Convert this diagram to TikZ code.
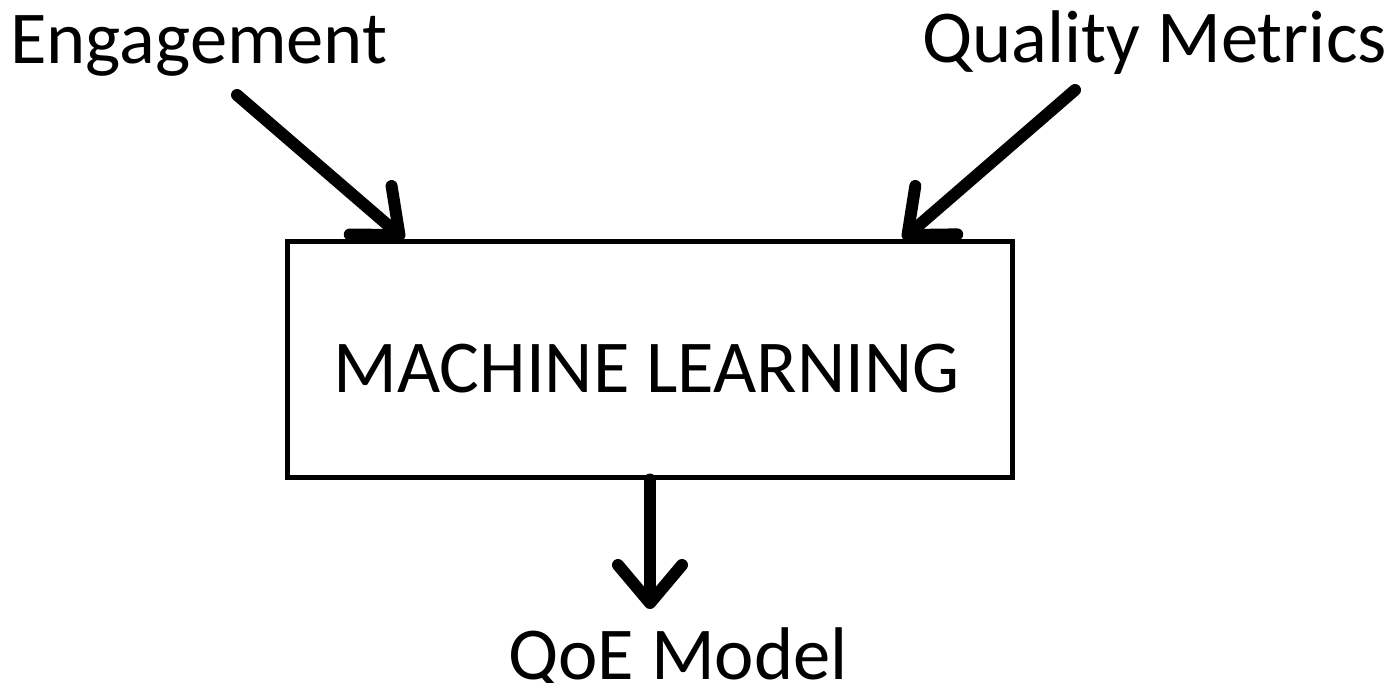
\documentclass[tikz,border=0pt]{standalone}
\usepackage{fontspec}
\setmainfont{Carlito}
\usetikzlibrary{arrows.meta}
\begin{document}
\begin{tikzpicture}[x=0.5pt,y=-0.5pt,
  lbl/.style={font=\fontsize{37.3}{44}\selectfont, inner sep=0pt, anchor=base west},
  bigarrow/.style={line width=6pt, line cap=round,
    -{Straight Barb[length=19pt,width=32pt,line cap=round,line join=round]}},
  mlbox/.style={draw, line width=2.5pt, minimum width=362.5pt, minimum height=117.5pt, inner sep=0pt}]
\useasboundingbox (0,0) rectangle (1395,683);
\node[lbl] (eng) at (10,64) {Engagement};
\node[lbl] (qm) at (922,63) {Quality Metrics};
\node[mlbox] (ml) at (649.5,359.5) {};
\node[lbl] (mltext) at (333,393) {MACHINE LEARNING};
\node[lbl] (qoe) at (508,679) {QoE Model};
\coordinate (s1) at (237,95);
\coordinate (t1) at (404,239);
\coordinate (s2) at (1075,90);
\coordinate (t2) at (903,239);
\coordinate (t3) at (650,609);
\draw[bigarrow] (s1) -- (t1);
\draw[bigarrow] (s2) -- (t2);
\draw[bigarrow] (ml.south -| t3) -- (t3);
\end{tikzpicture}
\end{document}
